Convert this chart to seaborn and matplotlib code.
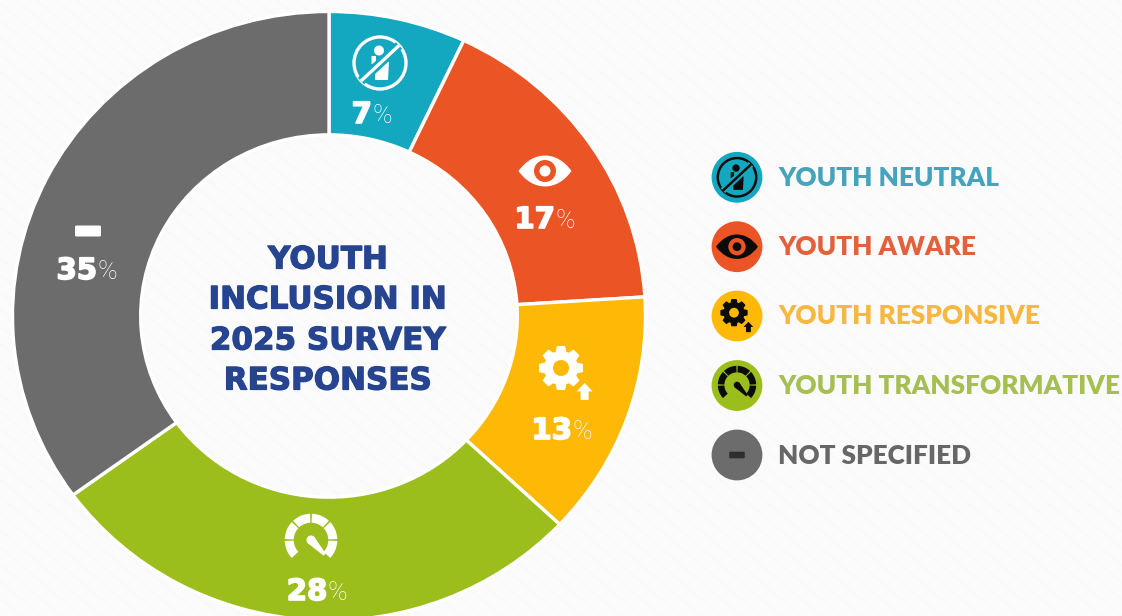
import numpy as np
import matplotlib
matplotlib.use("Agg")
import matplotlib.pyplot as plt
import matplotlib.patheffects as pe
from matplotlib.patches import Circle, Wedge, Polygon, PathPatch, FancyBboxPatch
from matplotlib.path import Path
import seaborn as sns

categories = ["YOUTH NEUTRAL", "YOUTH AWARE", "YOUTH RESPONSIVE", "YOUTH TRANSFORMATIVE", "NOT SPECIFIED"]
values = [7, 17, 13, 28, 35]
slice_colors = ["#14A7C0", "#EB5424", "#FDB905", "#9BBE1C", "#6B6C6B"]
legend_text_colors = ["#45A3BC", "#E2603B", "#F6B840", "#A5BF52", "#666766"]
title_lines = ["YOUTH", "INCLUSION IN", "2025 SURVEY", "RESPONSES"]

W, H = 1122, 616
BG = "#FBFBFB"
sns.set_theme(style="white", rc={"figure.facecolor": BG, "axes.facecolor": "none"})
plt.rcParams["font.family"] = ["Lato", "DejaVu Sans"]
fig = plt.figure(figsize=(W / 100, H / 100), dpi=100, facecolor=BG)

# background stripes in pixel coordinates
bg = fig.add_axes([0, 0, 1, 1], zorder=0)
bg.set_xlim(0, W); bg.set_ylim(H, 0); bg.axis("off")
for c in np.arange(-1000, 700, 17):
    xs = np.array([0, W])
    bg.plot(xs, c + xs * 0.85, color="#F9F9F9", lw=1.5, solid_capstyle="butt")

# donut: outer ellipse spans x 13..645, y 12..620 (the white edge eats a little)
left, right, top, bottom = 12.5, 645.5, 11.5, 620.5
ax = fig.add_axes([left / W, 1 - bottom / H, (right - left) / W, (bottom - top) / H], zorder=1)
ax.pie(values, colors=sns.color_palette(slice_colors), startangle=90, counterclock=False, radius=1,
       wedgeprops=dict(width=0.405, edgecolor="white", linewidth=2.4))
ax.set_aspect("auto")
ax.set_xlim(-1, 1); ax.set_ylim(-1, 1)

ov = fig.add_axes([0, 0, 1, 1], zorder=2)
ov.set_xlim(0, W); ov.set_ylim(H, 0); ov.axis("off")


def icon_neutral(cx, cy, s, fg, back):
    ov.add_patch(Circle((cx, cy), 26 * s, fill=False, ec=fg, lw=2.4 * s))
    ov.add_patch(Circle((cx - 1, cy - 12.5 * s), 5 * s, fc=fg, ec="none"))
    pts = [(-5, 17), (-5, 10), (1, 0), (5, -3), (9, -1), (8, 17)]
    ov.add_patch(Polygon([(cx + x * s, cy + y * s) for x, y in pts], fc=fg, ec="none"))
    pts = [(-8.5, -7), (-4, -7), (-4, 0), (-8.5, 1)]
    ov.add_patch(Polygon([(cx + x * s, cy + y * s) for x, y in pts], fc=fg, ec="none"))
    ov.plot([cx - 19 * s, cx + 19 * s], [cy + 18 * s, cy - 17.5 * s], color=back, lw=6.5 * s, solid_capstyle="butt")
    ov.plot([cx - 19 * s, cx + 19 * s], [cy + 18 * s, cy - 17.5 * s], color=fg, lw=2.4 * s, solid_capstyle="butt")


def icon_eye(cx, cy, s, fg, back):
    a, b = 26.5 * s, 15.5 * s
    verts = [(cx - a, cy), (cx - a * 0.45, cy - b * 1.33), (cx + a * 0.45, cy - b * 1.33), (cx + a, cy),
             (cx + a * 0.45, cy + b * 1.33), (cx - a * 0.45, cy + b * 1.33), (cx - a, cy), (cx - a, cy)]
    codes = [Path.MOVETO, Path.CURVE4, Path.CURVE4, Path.CURVE4, Path.CURVE4, Path.CURVE4, Path.CURVE4, Path.CLOSEPOLY]
    ov.add_patch(PathPatch(Path(verts, codes), fc=fg, ec="none"))
    ov.add_patch(Circle((cx, cy), 11 * s, fc=back, ec="none"))
    ov.add_patch(Circle((cx, cy), 5.5 * s, fc=fg, ec="none"))


def icon_gear(cx, cy, s, fg, back):
    teeth = 8
    pts = []
    for i in range(teeth):
        mid = 2 * np.pi * i / teeth
        for da, r in [(-0.30, 16.5), (-0.17, 21.7), (0.17, 21.7), (0.30, 16.5)]:
            pts.append((cx + r * s * np.sin(mid + da), cy - r * s * np.cos(mid + da)))
    ov.add_patch(Polygon(pts, fc=fg, ec=fg, lw=0.8, joinstyle="round"))
    ov.add_patch(Circle((cx, cy), 8 * s, fc=back, ec="none"))
    ax_, ay_ = cx + 23.6 * s, cy + 23.4 * s
    arrow = [(0, -8.5), (8, 0), (4, 0), (4, 8.5), (-4, 8.5), (-4, 0), (-8, 0)]
    ov.add_patch(Polygon([(ax_ + x * s, ay_ + y * s) for x, y in arrow], fc=fg, ec="none"))


def icon_gauge(cx, cy, s, fg, back):
    segs = [(-133, -92), (-88, -47), (-43, -2), (2, 43), (47, 88), (92, 133)]
    for a0, a1 in segs:
        ov.add_patch(Wedge((cx, cy), 26.3 * s, a0 - 90, a1 - 90, width=9 * s, fc=fg, ec="none"))
    ang = np.deg2rad(43)
    ux, uy = np.sin(ang), np.cos(ang)
    nx, ny = uy, -ux
    hx, hy = cx, cy
    tx, ty = hx + 20 * s * ux, hy + 20 * s * uy
    half = 4.5 * s
    ov.add_patch(Circle((hx, hy), half, fc=fg, ec="none"))
    ov.add_patch(Polygon([(hx + nx * half, hy + ny * half), (tx + nx * 1.5 * s, ty + ny * 1.5 * s),
                          (tx - nx * 1.5 * s, ty - ny * 1.5 * s), (hx - nx * half, hy - ny * half)],
                         fc=fg, ec="none"))


def icon_dash(cx, cy, s, fg, back):
    w, h = 26 * s, 11 * s
    ov.add_patch(FancyBboxPatch((cx - w / 2 + 1.5 * s, cy - h / 2 + 1.5 * s), w - 3 * s, h - 3 * s,
                                boxstyle=f"round,pad={1.5 * s},rounding_size={1.5 * s}", fc=fg, ec="none"))


icons = [icon_neutral, icon_eye, icon_gear, icon_gauge, icon_dash]
slice_icon_at = [(380, 63), (545, 171), (561, 368), (311, 540), (88, 231)]
slice_label_at = [(372, 115), (555, 220), (572, 431), (327, 592), (97, 271)]
legend_icon_scale = [0.74, 0.79, 0.61, 0.73, 0.6]
legend_rows = [177.3, 246.7, 316, 385.5, 455]
legend_icon_dy = [0, 0, -3.3, -0.5, 0]
legend_icon_dx = [0, 0, -3, 0, 0]
legend_icon_colors = ["#0B0B0B", "#0B0B0B", "#0B0B0B", "#0B0B0B", "#2E2E2E"]

for i, v in enumerate(values):
    icons[i](*slice_icon_at[i], 1.0, "white", slice_colors[i])
    x, y = slice_label_at[i]
    ov.text(x, y, str(v), ha="right", va="center", color="white", fontsize=21,
            family="DejaVu Sans", fontweight="bold",
            path_effects=[pe.withStroke(linewidth=1.2, foreground="white")])
    ov.text(x + 0.5, y + 1, "%", ha="left", va="center", color="white", fontsize=19,
            family="Roboto", fontweight="light")

for i, name in enumerate(categories):
    y = legend_rows[i]
    ov.add_patch(Circle((737, y), 25.4, fc=slice_colors[i], ec="none"))
    icons[i](737 + legend_icon_dx[i], y + legend_icon_dy[i], legend_icon_scale[i], legend_icon_colors[i], slice_colors[i])
    ov.text(778, y + 0.5, name, ha="left", va="center", color=legend_text_colors[i], fontsize=18.8,
            fontweight="heavy", family="Lato")

for line, y in zip(title_lines, [260, 300, 341, 381]):
    ov.text(328, y, line, ha="center", va="center", color="#26448F", fontsize=22.3,
            fontweight="bold", family="DejaVu Sans",
            path_effects=[pe.withStroke(linewidth=0.9, foreground="#26448F")])

fig.savefig("out.png", dpi=100, facecolor=BG)
